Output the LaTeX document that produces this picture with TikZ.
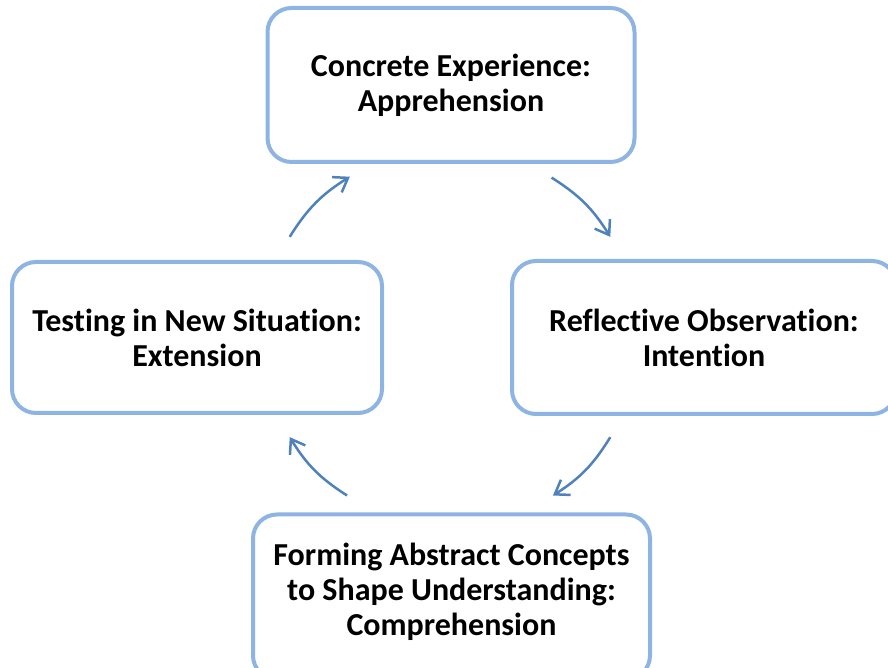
\documentclass[tikz,border=0pt]{standalone}
\usepackage{fontspec}
\setmainfont[Ligatures=NoCommon]{Carlito}
\usetikzlibrary{arrows.meta,positioning,calc}
\definecolor{boxline}{RGB}{141,180,226}
\definecolor{arrowblue}{RGB}{79,129,189}
\tikzset{
 stage/.style
  = {rectangle, draw=boxline, line width=4pt, fill=white, rounded corners=24pt,
     align=center, font=\fontsize{32}{35}\selectfont\bfseries, inner sep=0pt},
 cyc/.style
  = {draw=arrowblue, line width=2.5pt, -{Straight Barb[length=13pt,width=18pt]}},
}
\begin{document}
\begin{tikzpicture}[x=1pt,y=1pt]
    \useasboundingbox (0,0) rectangle (888,668);
    \node [stage, minimum width=367pt, minimum height=154pt] (concrete) at (451,583) {Concrete Experience:\\ Apprehension};
    \node [stage, minimum width=384pt, minimum height=153pt] (reflective) at (704,330.5) {Reflective Observation:\\ Intention};
    \node [stage, minimum width=397pt, minimum height=165pt, text depth=16pt] (abstract) at (451.5,71) {Forming Abstract Concepts\\ to Shape Understanding:\\ Comprehension};
    \node [stage, minimum width=370pt, minimum height=151pt] (testing) at (197,330.5) {Testing in New Situation:\\ Extension};

    % arrow ends on a circle round the middle
    \coordinate (mid) at (450,331);
    \coordinate (a1) at ($(mid)+(148:189)$);
    \coordinate (b1) at ($(mid)+(122:189)$);
    \coordinate (a2) at ($(mid)+(57.5:189)$);
    \coordinate (b2) at ($(mid)+(32:189)$);
    \coordinate (a3) at ($(mid)+(-32:189)$);
    \coordinate (b3) at ($(mid)+(-57:189)$);
    \coordinate (a4) at ($(mid)+(-123:189)$);
    \coordinate (b4) at ($(mid)+(-148:189)$);

    \path [cyc] (a1) to[bend left=13] (b1);
    \path [cyc] (a2) to[bend left=13] (b2);
    \path [cyc] (a3) to[bend left=13] (b3);
    \path [cyc] (a4) to[bend left=13] (b4);
\end{tikzpicture}
\end{document}
